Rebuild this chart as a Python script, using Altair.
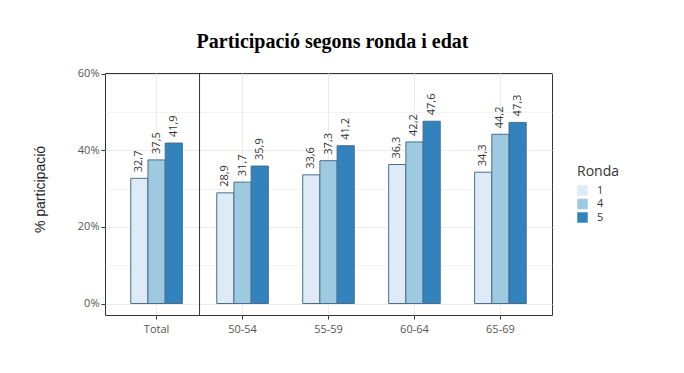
import altair as alt
import pandas as pd

grups = ["Total", "50-54", "55-59", "60-64", "65-69"]
rondes = ["1", "4", "5"]
ronda1 = [32.7, 28.9, 33.6, 36.3, 34.3]
ronda4 = [37.5, 31.7, 37.3, 42.2, 44.2]
ronda5 = [41.9, 35.9, 41.2, 47.6, 47.3]
colors = ["#deebf7", "#9ecae1", "#3182bd"]
y_ticks = [0, 10, 20, 30, 40, 50, 60]
y_domain = [-3, 60.2]

rows = []
for serie, vals in zip(rondes, [ronda1, ronda4, ronda5]):
    for g, v in zip(grups, vals):
        rows.append({"Grup": g, "Ronda": serie, "valor": v})
df = pd.DataFrame(rows)

W, H = 447, 242
P_INNER, P_OUTER = 0.4, 0.3
step = W / (len(grups) - P_INNER + 2 * P_OUTER)

x_enc = alt.X(
    "Grup:N",
    sort=grups,
    scale=alt.Scale(paddingInner=P_INNER, paddingOuter=P_OUTER),
    axis=alt.Axis(
        title=None, labelAngle=0, labelFont="Open Sans", labelFontSize=11,
        labelColor="#555555", tickColor="#333333", tickSize=4, labelPadding=4,
        domain=False, grid=True, gridColor="#ebebeb",
    ),
)
y_enc = alt.Y(
    "valor:Q",
    scale=alt.Scale(domain=y_domain, nice=False, zero=False),
    axis=alt.Axis(
        title="% participació", values=y_ticks,
        labelExpr="datum.value % 20 == 0 ? datum.value + '%' : ''",
        labelFont="Open Sans", labelFontSize=11, labelColor="#555555",
        tickColor="#333333", tickSize=4, labelPadding=2,
        tickOpacity=alt.condition("datum.value % 20 == 0", alt.value(1), alt.value(0)),
        gridColor="#ebebeb",
        gridOpacity=alt.condition("datum.value % 20 == 0", alt.value(1), alt.value(0.6)),
        domain=False,
        titleFont="Liberation Sans", titleFontSize=14, titleFontWeight="normal",
        titleColor="#222222", titleX=-58, titleY=116, titleAngle=270,
    ),
)

base = alt.Chart(df)

bars = base.mark_bar(stroke="#4a6d8c", strokeWidth=1).encode(
    x=x_enc,
    xOffset=alt.XOffset("Ronda:N", sort=rondes, scale=alt.Scale(paddingInner=0, paddingOuter=0)),
    y=y_enc,
    y2=alt.Y2(datum=0),
    fill=alt.Fill(
        "Ronda:N", sort=rondes,
        scale=alt.Scale(domain=rondes, range=colors),
        legend=alt.Legend(
            title="Ronda", orient="none", legendX=472, legendY=92,
            symbolType="square", symbolSize=110, symbolStrokeWidth=0,
            rowPadding=1.5, labelOffset=9,
            labelFont="Open Sans", labelFontSize=11, labelColor="#333333",
            titleFont="Open Sans", titleFontSize=14, titleFontWeight="normal",
            titleColor="#333333", titlePadding=6,
        ),
    ),
)

labels = base.transform_calculate(
    etiqueta="replace(format(datum.valor, '.1f'), '.', ',')"
).mark_text(
    angle=270, align="left", baseline="middle", dx=6,
    font="Open Sans", fontSize=11, color="#333333",
).encode(
    x=alt.X("Grup:N", sort=grups),
    xOffset=alt.XOffset("Ronda:N", sort=rondes),
    y="valor:Q",
    text="etiqueta:N",
)

sep_df = pd.DataFrame({"Grup": [grups[0]], "ymin": [y_domain[0]], "ymax": [y_domain[1]]})
sep = alt.Chart(sep_df).mark_rule(
    color="#333333", strokeWidth=1, xOffset=step * P_INNER / 2
).encode(
    x=alt.X("Grup:N", sort=grups, bandPosition=1),
    y=alt.Y("ymin:Q"),
    y2="ymax:Q",
)

chart = alt.layer(bars, labels, sep).properties(
    width=W, height=H,
    title=alt.Title(
        "Participació segons ronda i edat", font="Liberation Serif",
        fontSize=20, fontWeight="bold", color="#000000",
        anchor="middle", dx=4, dy=25, offset=25, baseline="alphabetic",
    ),
    autosize=alt.AutoSizeParams(type="none"),
    padding={"left": 97, "top": 65, "right": 124, "bottom": 50},
).configure(
    background="white"
).configure_view(
    stroke="#333333", strokeWidth=1
)

chart.save("out.html", embed_options={"renderer": "svg", "actions": False})
